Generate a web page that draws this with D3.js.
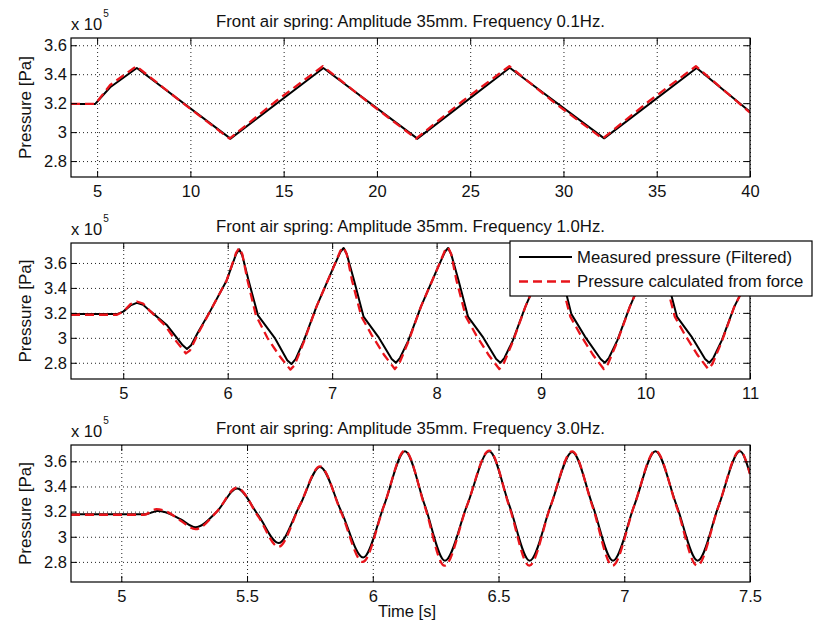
<!DOCTYPE html>
<html>
<head>
<meta charset="utf-8">
<script src="https://cdn.jsdelivr.net/npm/d3@7"></script>
<style>
  body { margin: 0; background: #fff; }
  svg text { font-family: 'Liberation Sans', Arial, Helvetica, sans-serif; fill: #111; }
</style>
</head>
<body>
<div id="chart"></div>
<script>
// values are in units of 1e5 Pa, time in s
var titles = [
  "Front air spring: Amplitude 35mm. Frequency 0.1Hz.",
  "Front air spring: Amplitude 35mm. Frequency 1.0Hz.",
  "Front air spring: Amplitude 35mm. Frequency 3.0Hz."
];
var yTicks = [2.8, 3, 3.2, 3.4, 3.6];
var xTicksA = [5, 10, 15, 20, 25, 30, 35, 40];
var xTicksB = [5, 6, 7, 8, 9, 10, 11];
var xTicksC = [5, 5.5, 6, 6.5, 7, 7.5];
var legendNames = ["Measured pressure (Filtered)", "Pressure calculated from force"];

// 0.1 Hz
var timeA_meas = [3.6, 4.9, 5.7, 7.13, 12.15, 17.13, 22.17, 27.12, 32.18, 37.14, 40];
var presA_meas = [3.195, 3.195, 3.31, 3.443, 2.955, 3.443, 2.955, 3.445, 2.957, 3.443, 3.14];
var timeA_calc = [3.6, 4.9, 5.7, 7.1, 9.6, 12.1, 14.6, 17.1, 19.6, 22.1, 24.6, 27.1, 29.6, 32.1, 34.6, 37.1, 40];
var presA_calc = [3.195, 3.195, 3.325, 3.455, 3.2, 2.955, 3.215, 3.455, 3.2, 2.955, 3.215, 3.455, 3.195, 2.955, 3.215, 3.455, 3.135];

// 1.0 Hz
var timeB_meas = [4.5, 4.94, 5.0, 5.07, 5.13, 5.19, 5.25, 5.42, 5.57, 5.61, 5.65, 5.72, 5.83, 5.99, 6.08, 6.11, 6.14, 6.2, 6.29, 6.45, 6.57, 6.61, 6.65,
  6.73, 6.85, 7.0, 7.08, 7.11, 7.14, 7.21, 7.3, 7.44, 7.57, 7.61, 7.65, 7.73, 7.85, 8.0, 8.08, 8.11, 8.14, 8.21, 8.3, 8.44, 8.57, 8.61, 8.65,
  8.73, 8.85, 9.0, 9.08, 9.11, 9.14, 9.21, 9.29, 9.42, 9.57, 9.61, 9.65, 9.73, 9.85, 10.0, 10.08, 10.11, 10.14, 10.21, 10.3, 10.44, 10.57, 10.61, 10.65,
  10.73, 10.85, 11.0];
var presB_meas = [3.19, 3.19, 3.21, 3.26, 3.28, 3.265, 3.22, 3.1, 2.94, 2.91, 2.94, 3.05, 3.21, 3.46, 3.67, 3.71, 3.66, 3.46, 3.18, 3.0, 2.82, 2.79, 2.83,
  2.98, 3.25, 3.54, 3.69, 3.72, 3.67, 3.46, 3.17, 3.01, 2.83, 2.8, 2.84, 2.98, 3.25, 3.54, 3.69, 3.72, 3.67, 3.46, 3.17, 3.01, 2.83, 2.8, 2.84,
  2.98, 3.25, 3.54, 3.69, 3.72, 3.67, 3.46, 3.19, 3.01, 2.83, 2.8, 2.84, 2.98, 3.25, 3.54, 3.69, 3.72, 3.67, 3.46, 3.17, 3.01, 2.83, 2.8, 2.84,
  2.98, 3.25, 3.5];
var timeB_calc = [4.5, 4.94, 5.0, 5.07, 5.13, 5.19, 5.25, 5.4, 5.5, 5.6, 5.64, 5.72, 5.83, 5.99, 6.08, 6.11, 6.14, 6.19, 6.27, 6.38, 6.5, 6.6, 6.64,
  6.73, 6.85, 7.0, 7.08, 7.11, 7.14, 7.19, 7.28, 7.38, 7.5, 7.6, 7.64, 7.73, 7.85, 8.0, 8.08, 8.11, 8.14, 8.19, 8.28, 8.38, 8.5, 8.6, 8.64,
  8.73, 8.85, 9.0, 9.08, 9.11, 9.14, 9.19, 9.28, 9.38, 9.5, 9.6, 9.64, 9.73, 9.85, 10.0, 10.08, 10.11, 10.14, 10.19, 10.28, 10.38, 10.5, 10.6, 10.64,
  10.73, 10.85, 11.0];
var presB_calc = [3.185, 3.185, 3.21, 3.27, 3.29, 3.275, 3.22, 3.1, 2.98, 2.875, 2.9, 3.04, 3.21, 3.46, 3.68, 3.72, 3.67, 3.46, 3.18, 3.0, 2.85, 2.745, 2.78,
  2.97, 3.25, 3.54, 3.7, 3.725, 3.67, 3.46, 3.17, 3.02, 2.86, 2.75, 2.79, 2.97, 3.25, 3.54, 3.7, 3.725, 3.67, 3.46, 3.17, 3.02, 2.86, 2.75, 2.79,
  2.97, 3.25, 3.54, 3.7, 3.725, 3.67, 3.46, 3.17, 3.02, 2.86, 2.75, 2.79, 2.97, 3.25, 3.54, 3.7, 3.725, 3.67, 3.46, 3.17, 3.02, 2.86, 2.75, 2.79,
  2.97, 3.25, 3.5];

// 3.0 Hz
var timeC_meas = [4.8, 5.096, 5.143, 5.176, 5.235, 5.295, 5.38, 5.46, 5.545, 5.625, 5.71, 5.79, 5.875, 5.962,
  6.045, 6.128, 6.207, 6.287, 6.375, 6.463, 6.543, 6.624, 6.708, 6.793, 6.874, 6.955, 7.04, 7.124,
  7.208, 7.292, 7.376, 7.46, 7.5];
var presC_meas = [3.18, 3.18, 3.205, 3.195, 3.14, 3.076, 3.2, 3.383, 3.17, 2.95, 3.25, 3.555, 3.2, 2.835,
  3.25, 3.68, 3.25, 2.81, 3.25, 3.68, 3.25, 2.81, 3.25, 3.675, 3.25, 2.81, 3.25, 3.68,
  3.25, 2.81, 3.25, 3.68, 3.5];
var timeC_calc = [4.8, 5.09, 5.14, 5.18, 5.235, 5.295, 5.38, 5.46, 5.545, 5.625, 5.71, 5.79, 5.875, 5.96,
  6.045, 6.128, 6.207, 6.285, 6.375, 6.463, 6.543, 6.622, 6.708, 6.793, 6.874, 6.953, 7.04, 7.124,
  7.208, 7.29, 7.376, 7.46, 7.5];
var presC_calc = [3.175, 3.175, 3.22, 3.2, 3.13, 3.06, 3.2, 3.39, 3.16, 2.92, 3.25, 3.56, 3.19, 2.8,
  3.25, 3.685, 3.24, 2.77, 3.25, 3.685, 3.24, 2.77, 3.25, 3.68, 3.24, 2.77, 3.25, 3.685,
  3.24, 2.77, 3.25, 3.685, 3.5];

var panels = [
  { top: 38, bottom: 177, xDom: [3.6, 40], yDom: [2.69, 3.65], xTicks: xTicksA, curve: d3.curveLinear,
    meas: [timeA_meas, presA_meas], calc: [timeA_calc, presA_calc] },
  { top: 243, bottom: 379, xDom: [4.5, 11], yDom: [2.67, 3.76], xTicks: xTicksB, curve: d3.curveLinear,
    meas: [timeB_meas, presB_meas], calc: [timeB_calc, presB_calc] },
  { top: 445, bottom: 582, xDom: [4.8, 7.5], yDom: [2.64, 3.73], xTicks: xTicksC, curve: d3.curveMonotoneX,
    meas: [timeC_meas, presC_meas], calc: [timeC_calc, presC_calc] }
];

var width = 813, height = 631,
    left = 71, right = 750,
    w = right - left;

var svg = d3.select("#chart").append("svg")
    .attr("width", width)
    .attr("height", height);

function zip(a) {
  return a[0].map(function (t, i) { return [t, a[1][i]]; });
}

panels.forEach(function (p, k) {
  var h = p.bottom - p.top;
  var x = d3.scaleLinear().domain(p.xDom).range([0, w]);
  var y = d3.scaleLinear().domain(p.yDom).range([h, 0]);

  var g = svg.append("g")
      .attr("transform", "translate(" + left + "," + p.top + ")");

  g.append("rect").attr("width", w).attr("height", h).attr("fill", "#fff");

  // grid
  g.append("g")
      .attr("class", "grid")
      .attr("transform", "translate(0," + h + ")")
      .call(d3.axisBottom(x).tickValues(p.xTicks).tickSize(-h).tickFormat(""));
  g.append("g")
      .attr("class", "grid")
      .call(d3.axisLeft(y).tickValues(yTicks).tickSize(-w).tickFormat(""));
  g.selectAll(".grid .domain").remove();
  g.selectAll(".grid line")
      .attr("stroke", "#222")
      .attr("stroke-width", 1)
      .attr("stroke-dasharray", "1,3");

  // data lines
  g.append("clipPath").attr("id", "clip" + k)
    .append("rect").attr("width", w).attr("height", h);

  var line = d3.line()
      .curve(p.curve)
      .x(function (d) { return x(d[0]); })
      .y(function (d) { return y(d[1]); });

  g.append("path")
      .attr("clip-path", "url(#clip" + k + ")")
      .attr("d", line(zip(p.meas)))
      .attr("fill", "none")
      .attr("stroke", "#000")
      .attr("stroke-width", 2)
      .attr("stroke-linejoin", "round");

  g.append("path")
      .attr("clip-path", "url(#clip" + k + ")")
      .attr("d", line(zip(p.calc)))
      .attr("fill", "none")
      .attr("stroke", "#e8141b")
      .attr("stroke-width", 2.3)
      .attr("stroke-linejoin", "round")
      .attr("stroke-dasharray", "9,5");

  // ticks, inward
  g.append("g")
      .attr("class", "ax")
      .attr("transform", "translate(0," + h + ")")
      .call(d3.axisBottom(x).tickValues(p.xTicks).tickSize(-6).tickPadding(8)
        .tickFormat(d3.format("~g")));
  g.append("g").attr("class", "ax")
      .call(d3.axisTop(x).tickValues(p.xTicks).tickSize(-6).tickFormat(""));
  g.append("g").attr("class", "ax")
      .call(d3.axisLeft(y).tickValues(yTicks).tickSize(-6).tickPadding(4)
        .tickFormat(d3.format("~g")));
  g.append("g").attr("class", "ax")
      .attr("transform", "translate(" + w + ",0)")
      .call(d3.axisRight(y).tickValues(yTicks).tickSize(-6).tickFormat(""));
  g.selectAll(".ax .domain").remove();
  g.selectAll(".ax line").attr("stroke", "#000");
  g.selectAll(".ax text").attr("font-size", 16.5).attr("fill", "#111");

  g.append("rect")
      .attr("width", w).attr("height", h)
      .attr("fill", "none")
      .attr("stroke", "#000")
      .attr("stroke-width", 1.2);

  // title
  g.append("text")
      .attr("x", w / 2).attr("y", -11.5)
      .attr("text-anchor", "middle")
      .attr("font-size", 16.8)
      .text(titles[k]);

  // exponent label
  var ex = g.append("text")
      .attr("x", 0).attr("y", -8)
      .attr("font-size", 16.5);
  ex.append("tspan").text("x 10");
  ex.append("tspan").attr("dy", -13).attr("dx", 1).attr("font-size", 10).text("5");

  // y label
  g.append("text")
      .attr("transform", "translate(-40," + (h / 2) + ") rotate(-90)")
      .attr("text-anchor", "middle")
      .attr("font-size", 17)
      .text("Pressure [Pa]");
});

svg.append("text")
    .attr("x", 407).attr("y", 617)
    .attr("text-anchor", "middle")
    .attr("font-size", 16.5)
    .text("Time [s]");

// legend
var leg = svg.append("g").attr("transform", "translate(510,241)");
leg.append("rect")
    .attr("width", 302).attr("height", 55)
    .attr("fill", "#fff").attr("stroke", "#000").attr("stroke-width", 1.2);
legendNames.forEach(function (name, i) {
  var yy = 16 + i * 24.5;
  leg.append("line")
      .attr("x1", 9).attr("x2", 62).attr("y1", yy).attr("y2", yy)
      .attr("stroke", i ? "#e8141b" : "#000")
      .attr("stroke-width", i ? 2.3 : 2)
      .attr("stroke-dasharray", i ? "9,5" : null);
  leg.append("text")
      .attr("x", 67).attr("y", yy).attr("dy", "0.35em")
      .attr("font-size", 16.7)
      .text(name);
});
</script>
</body>
</html>
